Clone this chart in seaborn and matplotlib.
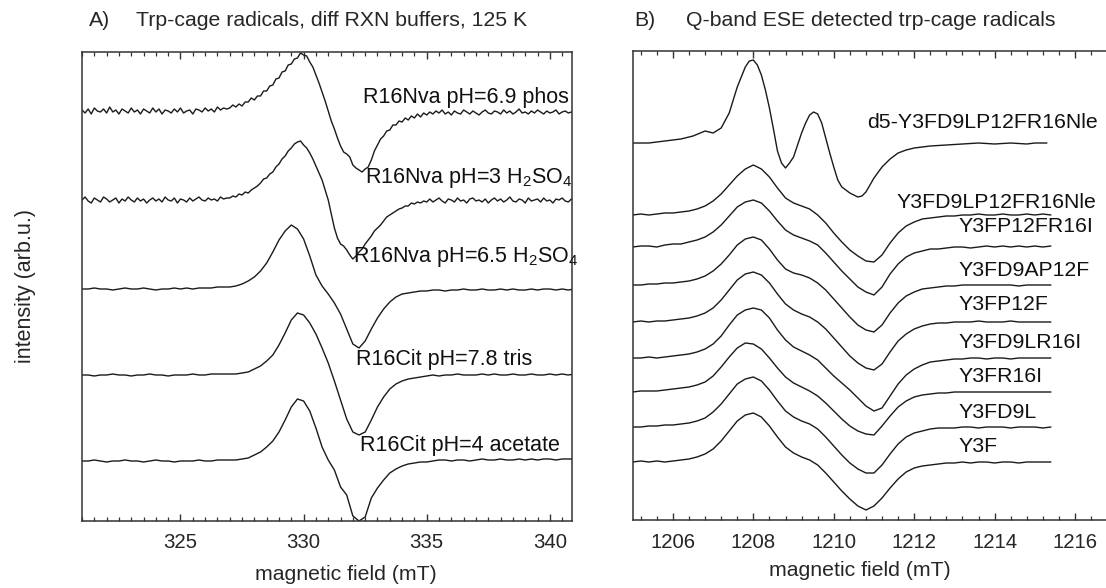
import numpy as np
import pandas as pd
import matplotlib
matplotlib.use("Agg")
import matplotlib.pyplot as plt
from matplotlib.ticker import MultipleLocator
import seaborn as sns

sns.set_theme(style="ticks")
plt.rcParams["font.family"] = ["Liberation Sans", "DejaVu Sans"]
plt.rcParams["mathtext.fontset"] = "custom"
plt.rcParams["mathtext.rm"] = "Liberation Sans"
plt.rcParams["mathtext.default"] = "regular"

# ---------------- Panel A data (field in mT, intensity arb.u.) ----------------
field_a_fine = np.arange(321.0, 341.001, 0.125)   # noisy spectra sampled finer
field_a = np.arange(321.0, 341.001, 0.25)
labels_a = ["R16Nva pH=6.9 phos", "R16Nva pH=3 H$_2$SO$_4$", "R16Nva pH=6.5 H$_2$SO$_4$",
            "R16Cit pH=7.8 tris", "R16Cit pH=4 acetate"]
offsets_a = [409.7, 320.7, 231.7, 145.7, 59.7]
a1 = [1, -2, 2, -3, 3, 0, -1, 2, -2, 4, -1, 1, -3, 2, 0, -2, 3, -1, 1, -3, 2, 0, -2, 3,
      -1, 2, -3, 1, 0, -2, 2, -1, 3, -2, 0, 1, -3, 2, 1, -1, 3, 0, 2, -1, 4, 1, 3, 2,
      3, 6, 4, 7, 5, 9, 9, 13,
      11, 15, 15, 20, 20, 25, 26, 32,
      33, 39, 40, 46, 47, 52, 53, 58,
      56, 55, 49, 44, 36, 28, 19, 10,
      0, -10, -18, -27, -35, -41, -43, -46,
      -54, -57, -59, -61, -58, -56, -49, -40,
      -34, -28, -25, -20, -19, -14, -14, -10,
      -11, -7, -9, -5, -7, -3, -6, -2,
      -4,
      -1, -3, 0, -2, 1, -3, -1, -4, 0, -2, -3, 1, -1, -3, 0, -2,
      -4, -1, 1, -2, -3, 0, -1, -3, 1, -2, 0, -3, -1, 2, -2, -1,
      -3, 0, -2, 1, -1, -3, 0, -2, -1, 1, -3, -1, 0, -2, -1, -2]
a2 = [0, 3, -1, -3, 2, 0, -2, 3, 1, -2, 0, 2, -3, 1, -1, 3, 0, -2, 2, -1, 1, -3, 0, 2,
      -1, 1, -2, 3, 0, -1, 2, -3, 1, 0, -2, 2, -1, 1, 3, 0, -1, 2, 0, 1, -1, 3, 1, 2,
      2, 4, 3, 6, 5, 8, 7, 10,
      12, 14, 17, 21, 22, 26, 28, 33,
      36, 41, 44, 49, 52, 56, 58, 59,
      55, 52, 47, 41, 34, 27, 20, 10,
      0, -14, -28, -38, -44, -46, -50, -55,
      -59, -56, -52, -49, -44, -40, -36, -31,
      -28, -25, -21, -17, -15, -13, -11, -9,
      -8, -6, -6, -3, -4, -2, -3, -1,
      -2,
      1, -2, 0, 2, -1, -3, 1, 0, -2, 2, -1, 0, -3, 1, 2, -1,
      0, -2, 1, -3, 0, 2, -1, 1, -2, 0, 3, -1, -2, 1, 0, -3,
      2, -1, 0, 1, -2, 2, -1, 0, -3, 1, 0, 2, -1, -2, 1, 0]
a3 = [0, 0, 1, 0, 0, -1, 0, 1, 0, 0, 1, 0, -1, 0, 0, 1, 0, 1, 0, 1, 1, 1, 2, 2,
      2, 3, 5, 8, 12, 18, 26, 37, 49, 58, 64, 60, 50, 33, 14, 3, -5, -14, -25, -40, -55, -59, -52,
      -40, -29, -20, -13, -8, -5, -4, -3, -2, -2,
      -1, -1, -2, -1, -1, 0, -1, -1, 0, -1, -1, 0, -1, 0, -1, -1, 0, -1, 0, 0, -1, 0, -1, 0]
a4 = [0, 0, -1, 0, 0, 1, 0, 0, -1, 0, 0, 1, 0, 0, -1, 0, 0, 0, 1, 0, 0, 1, 1, 1,
      1, 1, 2, 3, 6, 9, 14, 20, 30, 42, 55, 62, 60, 52, 41, 27, 12, -6, -25, -44, -57, -60, -57,
      -45, -32, -22, -14, -9, -6, -4, -3, -2, -1,
      0, -1, 0, 0, 1, 0, 0, 0, 1, 0, 1, 0, 0, 1, 0, 0, 1, 0, 0, 1, 0, 1, 0, 1]
a5 = [0, 0, 1, 0, -1, 0, 0, 1, 0, 0, -1, 0, 1, 0, 0, -1, 0, 0, 0, 1, 0, 0, 1, 1,
      1, 1, 2, 3, 6, 9, 14, 20, 29, 41, 54, 62, 60, 50, 33, 14, 1, -9, -26, -34, -55, -60, -56,
      -37, -27, -19, -12, -8, -5, -3, -2, -1, -1,
      0, 1, 1, 0, 1, 1, 0, 1, 2, 1, 1, 2, 1, 1, 2, 1, 2, 1, 2, 2, 1, 2, 2, 2]
label_pos_a = [(332.42, 423.7), (332.50, 342.7), (332.00, 263.7), (332.13, 161.7), (332.30, 75.7)]

# ---------------- Panel B data ----------------
field_b = np.arange(1205.0, 1215.401, 0.2)
field_d5 = [1205.0, 1205.4, 1205.8, 1206.2, 1206.5, 1206.8, 1207.0, 1207.2, 1207.4, 1207.6, 1207.8,
            1207.9, 1208.0, 1208.1, 1208.2, 1208.3, 1208.4, 1208.5, 1208.6, 1208.7, 1208.8, 1208.9,
            1209.0, 1209.1, 1209.2, 1209.3, 1209.4, 1209.5, 1209.6, 1209.7, 1209.8, 1209.9, 1210.0,
            1210.1, 1210.2, 1210.3, 1210.4, 1210.5, 1210.6, 1210.7, 1210.8, 1210.9, 1211.0, 1211.2,
            1211.4, 1211.6, 1211.8, 1212.0, 1212.4, 1212.8, 1213.2, 1213.6, 1214.0, 1214.4, 1214.8,
            1215.0, 1215.3]
d5 = [0, 0, 2, 4, 7, 12, 10, 15, 30, 56, 76, 82, 83, 78, 68, 53, 35, 14, -8, -20, -25, -20, -14, -2,
      10, 20, 28, 31, 29, 20, 5, -10, -24, -37, -44, -47, -50, -52, -54, -53, -49, -42, -35, -24,
      -16, -10, -7, -5, -3, -2, -1, 0, -1, 0, -1, 0, 0]
labels_b = ["d5-Y3FD9LP12FR16Nle", "Y3FD9LP12FR16Nle", "Y3FP12FR16I", "Y3FD9AP12F", "Y3FP12F",
            "Y3FD9LR16I", "Y3FR16I", "Y3FD9L", "Y3F"]
offsets_b = [377, 305, 273, 235, 198, 162, 128, 93, 58]
b2 = [0, 1, 0, 1, 2, 2, 3, 4, 6, 9, 14, 21, 30, 39, 46, 50, 46, 38, 27, 17, 12, 9, 6, 0, -8,
      -18, -27, -35, -41, -46, -47, -40, -28, -18, -11, -7, -4, -3, -2, -1, -1, 0, 0, 1, 0,
      0, 1, 0, 0, 1, 0, 1, 0]
b3 = [0, 1, 1, 0, 2, 3, 3, 5, 7, 10, 15, 22, 31, 40, 45, 47, 44, 36, 26, 17, 12, 9, 6, 2, -6,
      -15, -24, -32, -40, -45, -48, -40, -27, -17, -10, -6, -4, -2, -2, -1, 0, 0, -1, 0, 1,
      0, 1, 0, 1, 0, 1, 0, 1]
b4 = [0, 0, 1, 1, 2, 2, 3, 4, 6, 9, 14, 21, 30, 40, 46, 48, 45, 36, 25, 16, 12, 10, 7, 2, -5,
      -14, -23, -32, -40, -45, -47, -40, -28, -18, -11, -7, -4, -3, -2, -1, -1, 0, 0, 0, 0,
      0, 0, 0, -1, 0, 0, 0, 0]
b5 = [0, 1, 0, 1, 1, 2, 3, 4, 6, 9, 14, 22, 32, 42, 48, 50, 47, 39, 28, 18, 12, 8, 5, 0, -7,
      -16, -25, -34, -41, -46, -48, -42, -30, -19, -12, -7, -4, -2, -1, -1, 0, 0, 0, 1, 0,
      0, 0, 1, 0, 0, 0, 0, 0]
b6 = [0, 0, 1, 0, 1, 2, 3, 4, 6, 9, 14, 22, 33, 43, 48, 50, 48, 40, 28, 18, 11, 7, 3, -2, -10,
      -18, -25, -32, -40, -48, -53, -50, -38, -26, -17, -11, -7, -4, -3, -2, -1, -1, 0, 0, -1,
      0, 0, -1, 0, 0, 0, 0, 0]
b7 = [0, 1, 1, 1, 2, 3, 4, 5, 7, 10, 16, 25, 35, 44, 49, 48, 43, 34, 24, 15, 9, 5, 1, -4, -11,
      -19, -27, -34, -39, -42, -43, -34, -24, -15, -9, -5, -3, -2, -1, -1, 0, 0, 0, 0, 0,
      0, 0, 0, 0, 0, 0, 0, 0]
b8 = [0, 0, 1, 1, 2, 2, 3, 4, 6, 9, 15, 23, 33, 43, 48, 50, 46, 37, 26, 16, 10, 6, 3, -2, -10,
      -19, -28, -36, -42, -46, -46, -38, -27, -17, -10, -6, -4, -2, -1, -1, -1, 0, 0, -1, 0,
      0, 0, -1, 0, 0, 0, -1, 0]
b9 = [0, 1, 0, 1, 0, 1, 2, 3, 5, 8, 13, 21, 31, 41, 47, 49, 45, 36, 25, 15, 9, 5, 2, -3, -11,
      -20, -29, -37, -44, -48, -44, -36, -26, -17, -10, -6, -4, -3, -2, -1, -1, 0, -1, 0, 0,
      -1, 0, 0, -1, 0, 0, 0, 0]
label_pos_b = [(1210.83, 397), (1211.57, 318), (1213.09, 293), (1213.09, 249), (1213.09, 215),
               (1213.09, 178), (1213.09, 143), (1213.09, 108), (1213.09, 73)]

# ---------------- Build long-format tables ----------------
rows = []
fields_a = [field_a_fine, field_a_fine, field_a, field_a, field_a]
for lab, off, fx, vals in zip(labels_a, offsets_a, fields_a, [a1, a2, a3, a4, a5]):
    for f, v in zip(fx, vals):
        rows.append((lab, f, off + v))
df_a = pd.DataFrame(rows, columns=["sample", "field", "intensity"])

rows = []
series_b = [(field_d5, d5)] + [(field_b, s) for s in [b2, b3, b4, b5, b6, b7, b8, b9]]
for lab, off, (fx, vals) in zip(labels_b, offsets_b, series_b):
    for f, v in zip(fx, vals):
        rows.append((lab, f, off + v))
df_b = pd.DataFrame(rows, columns=["sample", "field", "intensity"])

# ---------------- Figure ----------------
W, H = 1106, 588
fig = plt.figure(figsize=(W / 100, H / 100), dpi=100)
ax_a = fig.add_axes([82 / W, 1 - 520.7 / H, 490 / W, 469 / H])
ax_b = fig.add_axes([632.7 / W, 1 - 520 / H, (W - 632.7) / W, 469.3 / H])

line_col = "#1a1a1a"
sns.lineplot(data=df_a, x="field", y="intensity", units="sample", estimator=None, sort=False,
             color=line_col, lw=1.0, ax=ax_a)
sns.lineplot(data=df_b, x="field", y="intensity", units="sample", estimator=None, sort=False,
             color=line_col, lw=1.0, ax=ax_b)

ax_a.set_xlim(321.0, 340.9)
ax_a.set_ylim(0, 469)
ax_b.set_xlim(1205.0, 1216.77)
ax_b.set_ylim(0, 469.3)

for ax in (ax_a, ax_b):
    ax.set_xlabel("")
    ax.set_ylabel("")
    ax.set_yticks([])
    ax.tick_params(axis="x", which="both", direction="in", top=True, bottom=True,
                   labelsize=14.7, pad=9, color="#333333")
    ax.tick_params(axis="x", which="major", length=5, width=1.0)
    ax.tick_params(axis="x", which="minor", length=3, width=0.9)
    for s in ax.spines.values():
        s.set_linewidth(1.1)
        s.set_color("#333333")

ax_a.xaxis.set_major_locator(MultipleLocator(5))
ax_a.xaxis.set_minor_locator(MultipleLocator(0.5))
ax_b.xaxis.set_major_locator(MultipleLocator(2))
ax_b.xaxis.set_minor_locator(MultipleLocator(0.4))
ax_b.spines["right"].set_visible(False)

for lab, (x, y) in zip(labels_a, label_pos_a):
    ax_a.text(x, y, lab, fontsize=15.5, ha="left", va="center", color="#111111")
for lab, (x, y) in zip(labels_b, label_pos_b):
    ax_b.text(x, y, lab, fontsize=15.3, ha="left", va="center", color="#111111")

# titles
fig.text(89 / W, 1 - 20 / H, "A)", fontsize=15.3, ha="left", va="center")
fig.text(136.5 / W, 1 - 20 / H, "Trp-cage radicals, diff RXN buffers, 125 K", fontsize=15.3,
         ha="left", va="center")
fig.text(634 / W, 1 - 20 / H, "B)", fontsize=15.3, ha="left", va="center")
fig.text(686 / W, 1 - 20 / H, "Q-band ESE detected trp-cage radicals", fontsize=15.3,
         ha="left", va="center")

# axis labels
fig.text(346 / W, 1 - 575 / H, "magnetic field (mT)", fontsize=15.3, ha="center", va="center")
fig.text(860 / W, 1 - 571 / H, "magnetic field (mT)", fontsize=15.3, ha="center", va="center")
fig.text(26 / W, 1 - 286 / H, "intensity (arb.u.)", fontsize=15.5, ha="center", va="center",
         rotation=90)

fig.savefig("out.png", dpi=100)
